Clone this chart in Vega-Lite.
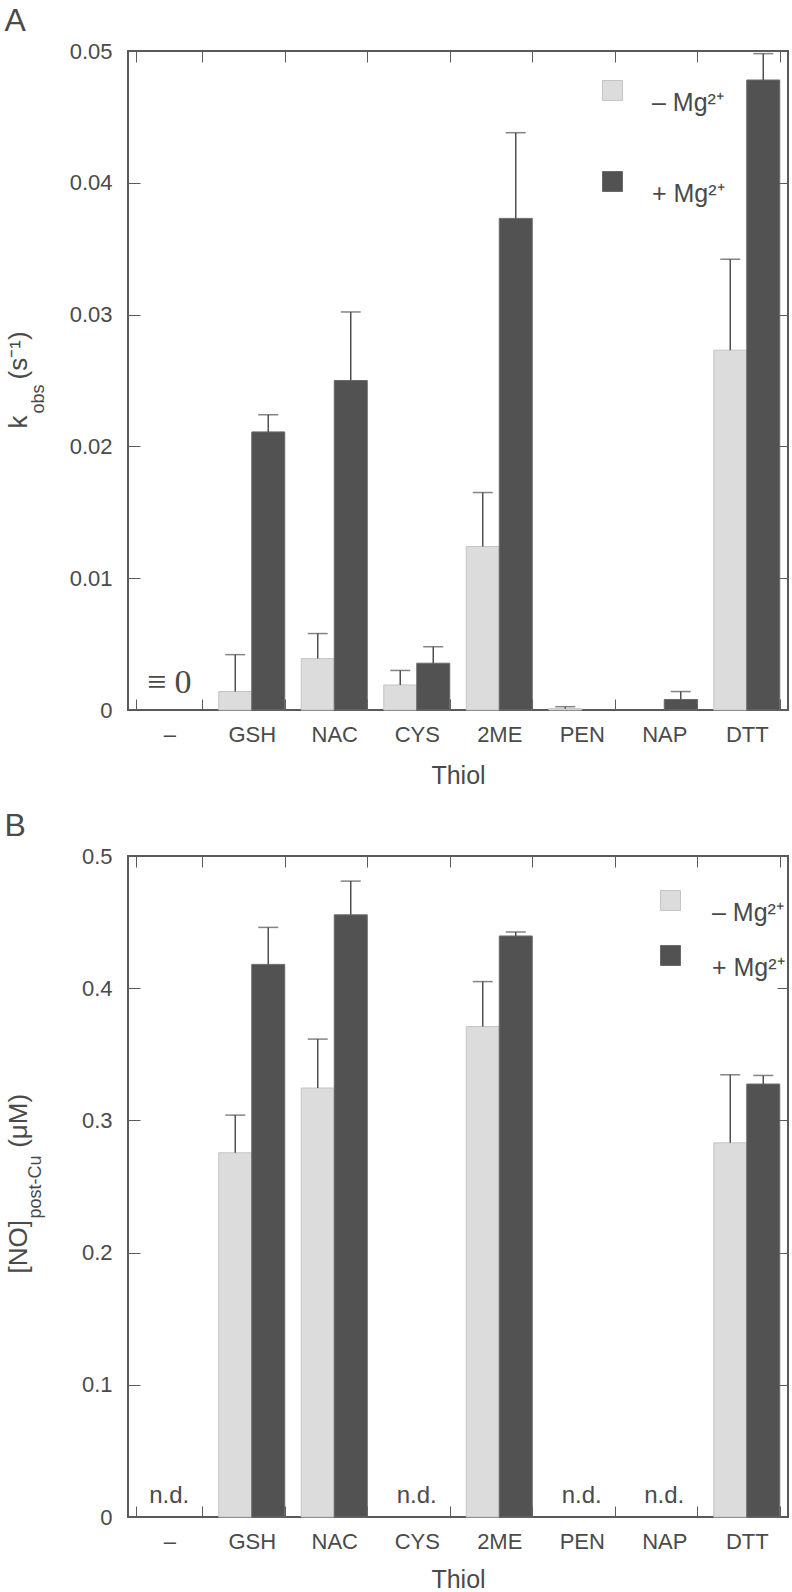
{
  "$schema": "https://vega.github.io/schema/vega-lite/v6.json",
  "background": "white",
  "padding": {"left": 3, "top": 3, "right": 0, "bottom": 0},
  "spacing": 19,
  "config": {
    "font": "Liberation Sans",
    "view": {"stroke": "#5a5a5a", "strokeWidth": 2},
    "axis": {
      "labelFont": "Liberation Sans",
      "titleFont": "Liberation Sans",
      "labelColor": "#4a4a4a",
      "titleColor": "#4a4a4a",
      "tickColor": "#5a5a5a",
      "tickWidth": 1,
      "domain": false,
      "grid": false,
      "labelFontSize": 22,
      "titleFontWeight": "normal"
    },
    "legend": {
      "labelFont": "Liberation Sans",
      "labelColor": "#4a4a4a",
      "labelFontSize": 25
    }
  },
  "datasets": {
    "kobs": [
      {"thiol": "GSH", "cond": "– Mg²⁺", "v": 0.0014, "hi": 0.0042},
      {"thiol": "GSH", "cond": "+ Mg²⁺", "v": 0.0211, "hi": 0.0224},
      {"thiol": "NAC", "cond": "– Mg²⁺", "v": 0.0039, "hi": 0.0058},
      {"thiol": "NAC", "cond": "+ Mg²⁺", "v": 0.025, "hi": 0.0302},
      {"thiol": "CYS", "cond": "– Mg²⁺", "v": 0.0019, "hi": 0.003},
      {"thiol": "CYS", "cond": "+ Mg²⁺", "v": 0.00355, "hi": 0.0048},
      {"thiol": "2ME", "cond": "– Mg²⁺", "v": 0.0124, "hi": 0.0165},
      {"thiol": "2ME", "cond": "+ Mg²⁺", "v": 0.0373, "hi": 0.0438},
      {"thiol": "PEN", "cond": "– Mg²⁺", "v": 0.0001, "hi": 0.00025},
      {"thiol": "NAP", "cond": "+ Mg²⁺", "v": 0.0008, "hi": 0.0014},
      {"thiol": "DTT", "cond": "– Mg²⁺", "v": 0.0273, "hi": 0.0342},
      {"thiol": "DTT", "cond": "+ Mg²⁺", "v": 0.0478, "hi": 0.0498}
    ],
    "annA": [
      {"thiol": "–", "y": 0.0013, "label": "≡ 0"}
    ],
    "no": [
      {"thiol": "GSH", "cond": "– Mg²⁺", "v": 0.2755, "hi": 0.304},
      {"thiol": "GSH", "cond": "+ Mg²⁺", "v": 0.418, "hi": 0.446},
      {"thiol": "NAC", "cond": "– Mg²⁺", "v": 0.3245, "hi": 0.3615},
      {"thiol": "NAC", "cond": "+ Mg²⁺", "v": 0.4555, "hi": 0.481},
      {"thiol": "2ME", "cond": "– Mg²⁺", "v": 0.371, "hi": 0.405},
      {"thiol": "2ME", "cond": "+ Mg²⁺", "v": 0.4395, "hi": 0.4425},
      {"thiol": "DTT", "cond": "– Mg²⁺", "v": 0.283, "hi": 0.3345},
      {"thiol": "DTT", "cond": "+ Mg²⁺", "v": 0.3275, "hi": 0.334}
    ],
    "annB": [
      {"thiol": "–", "y": 0.0106, "label": "n.d."},
      {"thiol": "CYS", "y": 0.0106, "label": "n.d."},
      {"thiol": "PEN", "y": 0.0106, "label": "n.d."},
      {"thiol": "NAP", "y": 0.0106, "label": "n.d."}
    ]
  },
  "resolve": {
    "scale": {"fill": "independent", "stroke": "independent"},
    "legend": {"fill": "independent"}
  },
  "vconcat": [
    {
      "width": 660,
      "height": 659,
      "resolve": {"axis": {"x": "independent", "y": "independent"}},
      "layer": [
        {
          "data": {"name": "kobs"},
          "mark": {"type": "bar", "strokeWidth": 1},
          "encoding": {
            "x": {
              "field": "thiol", "type": "nominal", "sort": null,
              "scale": {"domain": ["–", "GSH", "NAC", "CYS", "2ME", "PEN", "NAP", "DTT"], "paddingInner": 0.2, "paddingOuter": 0.1},
              "axis": {"orient": "bottom", "labelAngle": 0, "tickSize": -11, "tickBand": "extent", "labelPadding": 25,
                "title": "Thiol", "titleFontSize": 25, "titleX": 330, "titleY": 73, "titleBaseline": "alphabetic", "titleAlign": "center"}
            },
            "xOffset": {"field": "cond", "type": "nominal", "scale": {"domain": ["– Mg²⁺", "+ Mg²⁺"]}},
            "y": {
              "field": "v", "type": "quantitative",
              "scale": {"domain": [0, 0.05], "nice": false},
              "axis": {"orient": "left", "values": [0, 0.01, 0.02, 0.03, 0.04, 0.05], "format": "~g", "tickSize": -12, "labelPadding": 28,
                "title": "k\u00a0\u00a0\u00a0\u00a0\u00a0(s⁻¹)", "titleFontSize": 26, "titleAngle": 270, "titleX": -102, "titleY": 377,
                "titleAlign": "left", "titleBaseline": "alphabetic"}
            },
            "fill": {
              "field": "cond", "type": "nominal",
              "scale": {"domain": ["– Mg²⁺", "+ Mg²⁺"], "range": ["#dcdcdc", "#525252"]},
              "legend": {"orient": "none", "legendX": 472, "legendY": 27, "title": null, "symbolType": "square", "symbolSize": 400,
                "symbolStrokeColor": "#b0b0b0", "symbolStrokeWidth": 1, "labelOffset": 27, "rowPadding": 53, "labelBaseline": "top",
                "labelFontSize": 25, "labelColor": "#4a4a4a", "padding": 0}
            },
            "stroke": {
              "field": "cond", "type": "nominal",
              "scale": {"domain": ["– Mg²⁺", "+ Mg²⁺"], "range": ["#c4c4c4", "#6a6a6a"]},
              "legend": null
            }
          }
        },
        {
          "data": {"name": "kobs"},
          "mark": {"type": "rule", "color": "#505050", "strokeWidth": 1.5},
          "encoding": {
            "x": {"field": "thiol", "type": "nominal", "axis": null},
            "xOffset": {"field": "cond", "type": "nominal"},
            "y": {"field": "v", "type": "quantitative", "axis": null},
            "y2": {"field": "hi"}
          }
        },
        {
          "data": {"name": "kobs"},
          "mark": {"type": "tick", "color": "#505050", "thickness": 1.5, "size": 20},
          "encoding": {
            "x": {"field": "thiol", "type": "nominal",
              "axis": {"orient": "top", "labels": false, "tickSize": -11, "tickBand": "extent",
                "title": "A", "titleFontSize": 32, "titleX": -124, "titleY": -21, "titleAlign": "left", "titleBaseline": "alphabetic", "titleAngle": 0}},
            "xOffset": {"field": "cond", "type": "nominal"},
            "y": {"field": "hi", "type": "quantitative",
              "axis": {"orient": "right", "labels": false, "values": [0, 0.01, 0.02, 0.03, 0.04, 0.05], "tickSize": -11,
                "title": "obs", "titleFontSize": 18, "titleAngle": 270, "titleX": -745, "titleY": 362, "titleAlign": "left", "titleBaseline": "alphabetic"}}
          }
        },
        {
          "data": {"name": "annA"},
          "mark": {"type": "text", "font": "Liberation Serif", "fontSize": 34, "color": "#4a4a4a", "baseline": "alphabetic"},
          "encoding": {
            "x": {"field": "thiol", "type": "nominal", "axis": null},
            "y": {"field": "y", "type": "quantitative", "axis": null},
            "text": {"field": "label"}
          }
        }
      ]
    },
    {
      "width": 660,
      "height": 661,
      "resolve": {"axis": {"x": "independent", "y": "independent"}},
      "layer": [
        {
          "data": {"name": "no"},
          "mark": {"type": "bar", "strokeWidth": 1},
          "encoding": {
            "x": {
              "field": "thiol", "type": "nominal", "sort": null,
              "scale": {"domain": ["–", "GSH", "NAC", "CYS", "2ME", "PEN", "NAP", "DTT"], "paddingInner": 0.2, "paddingOuter": 0.1},
              "axis": {"orient": "bottom", "labelAngle": 0, "tickSize": -11, "tickBand": "extent", "labelPadding": 25,
                "title": "Thiol", "titleFontSize": 25, "titleX": 330, "titleY": 70, "titleBaseline": "alphabetic", "titleAlign": "center"}
            },
            "xOffset": {"field": "cond", "type": "nominal", "scale": {"domain": ["– Mg²⁺", "+ Mg²⁺"]}},
            "y": {
              "field": "v", "type": "quantitative",
              "scale": {"domain": [0, 0.5], "nice": false},
              "axis": {"orient": "left", "values": [0, 0.1, 0.2, 0.3, 0.4, 0.5], "format": "~g", "tickSize": -12, "labelPadding": 28,
                "title": "[NO]\u00a0\u00a0\u00a0\u00a0\u00a0\u00a0\u00a0\u00a0\u00a0\u00a0(μM)", "titleFontSize": 26, "titleAngle": 270, "titleX": -102, "titleY": 417,
                "titleAlign": "left", "titleBaseline": "alphabetic"}
            },
            "fill": {
              "field": "cond", "type": "nominal",
              "scale": {"domain": ["– Mg²⁺", "+ Mg²⁺"], "range": ["#dcdcdc", "#525252"]},
              "legend": {"orient": "none", "legendX": 530, "legendY": 32, "title": null, "symbolType": "square", "symbolSize": 400,
                "symbolStrokeColor": "#b0b0b0", "symbolStrokeWidth": 1, "labelOffset": 29, "rowPadding": 17, "labelBaseline": "top",
                "labelFontSize": 25, "labelColor": "#4a4a4a", "padding": 0}
            },
            "stroke": {
              "field": "cond", "type": "nominal",
              "scale": {"domain": ["– Mg²⁺", "+ Mg²⁺"], "range": ["#c4c4c4", "#6a6a6a"]},
              "legend": null
            }
          }
        },
        {
          "data": {"name": "no"},
          "mark": {"type": "rule", "color": "#505050", "strokeWidth": 1.5},
          "encoding": {
            "x": {"field": "thiol", "type": "nominal", "axis": null},
            "xOffset": {"field": "cond", "type": "nominal"},
            "y": {"field": "v", "type": "quantitative", "axis": null},
            "y2": {"field": "hi"}
          }
        },
        {
          "data": {"name": "no"},
          "mark": {"type": "tick", "color": "#505050", "thickness": 1.5, "size": 20},
          "encoding": {
            "x": {"field": "thiol", "type": "nominal",
              "axis": {"orient": "top", "labels": false, "tickSize": -11, "tickBand": "extent",
                "title": "B", "titleFontSize": 32, "titleX": -124, "titleY": -21, "titleAlign": "left", "titleBaseline": "alphabetic", "titleAngle": 0}},
            "xOffset": {"field": "cond", "type": "nominal"},
            "y": {"field": "hi", "type": "quantitative",
              "axis": {"orient": "right", "labels": false, "values": [0, 0.1, 0.2, 0.3, 0.4, 0.5], "tickSize": -11,
                "title": "post-Cu", "titleFontSize": 18, "titleAngle": 270, "titleX": -748, "titleY": 362, "titleAlign": "left", "titleBaseline": "alphabetic"}}
          }
        },
        {
          "data": {"name": "annB"},
          "mark": {"type": "text", "fontSize": 24, "color": "#4a4a4a", "baseline": "alphabetic"},
          "encoding": {
            "x": {"field": "thiol", "type": "nominal", "axis": null},
            "y": {"field": "y", "type": "quantitative", "axis": null},
            "text": {"field": "label"}
          }
        }
      ]
    }
  ]
}
